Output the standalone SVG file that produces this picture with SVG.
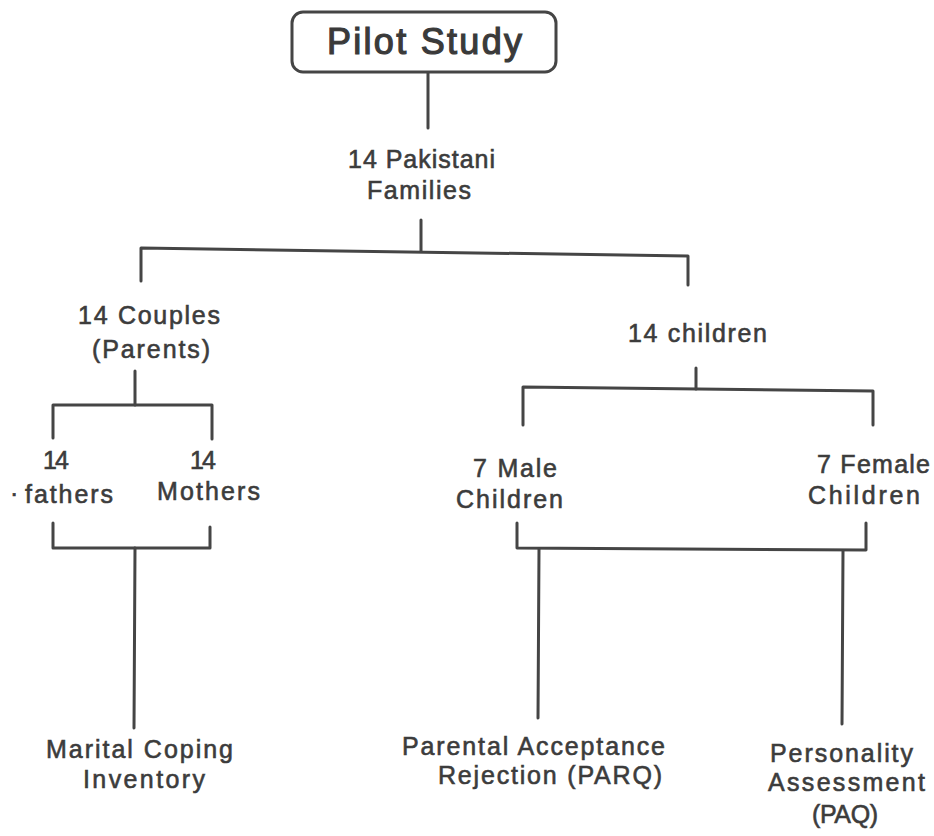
<svg xmlns="http://www.w3.org/2000/svg" width="934" height="836" viewBox="0 0 934 836">
<style>
  .t { font-family: "Liberation Sans", Arial, sans-serif; font-size: 25px; fill: #3c3c3c; stroke: #3c3c3c; stroke-width: 0.6; }
  .b { font-family: "Liberation Sans", Arial, sans-serif; font-size: 36px; fill: #3a3a3a; stroke: #3a3a3a; stroke-width: 1.2; }
  .c { fill: none; stroke: #454545; stroke-width: 3; stroke-linecap: round; stroke-linejoin: round; }
</style>
<rect width="934" height="836" fill="#ffffff"/>
<g id="connectors" class="c">
  <line x1="428" y1="73" x2="428" y2="128"/>
  <polyline points="141,281 141,248 688,256 688,285"/>
  <line x1="421" y1="220" x2="421" y2="251"/>
  <line x1="135" y1="371" x2="135" y2="405"/>
  <polyline points="53,438 53,405 212,405 212,439"/>
  <polyline points="53,523 53,548 210,548 210,527"/>
  <line x1="135" y1="548" x2="134" y2="728"/>
  <line x1="696" y1="368" x2="696" y2="389"/>
  <polyline points="523,425 523,387 873,391 873,425"/>
  <polyline points="517,523 517,548 866,550 866,523"/>
  <line x1="539" y1="549" x2="538" y2="718"/>
  <line x1="843" y1="551" x2="842" y2="724"/>
</g>
<g id="pilot">
  <rect x="292" y="12" width="264" height="60" rx="11" fill="#fff" stroke="#454545" stroke-width="3"/>
  <text class="b" x="327" y="54" textLength="195" lengthAdjust="spacing">Pilot Study</text>
</g>
<g id="families">
  <text class="t" x="348" y="168" textLength="147" lengthAdjust="spacing">14 Pakistani</text>
  <text class="t" x="367" y="199" textLength="104" lengthAdjust="spacing">Families</text>
</g>
<g id="couples">
  <text class="t" x="78" y="324" textLength="142" lengthAdjust="spacing">14 Couples</text>
  <text class="t" x="92" y="358" textLength="118" lengthAdjust="spacing">(Parents)</text>
</g>
<g id="fathers">
  <text class="t" x="43" y="469" textLength="26" lengthAdjust="spacing">14</text>
  <text class="t" x="10" y="502">·</text>
  <text class="t" x="25" y="503" textLength="88" lengthAdjust="spacing">fathers</text>
</g>
<g id="mothers">
  <text class="t" x="190" y="469" textLength="26" lengthAdjust="spacing">14</text>
  <text class="t" x="157" y="500" textLength="103" lengthAdjust="spacing">Mothers</text>
</g>
<g id="children">
  <text class="t" x="628" y="342" textLength="139" lengthAdjust="spacing">14 children</text>
</g>
<g id="male">
  <text class="t" x="473" y="477" textLength="84" lengthAdjust="spacing">7  Male</text>
  <text class="t" x="456" y="508" textLength="107" lengthAdjust="spacing">Children</text>
</g>
<g id="female">
  <text class="t" x="817" y="473" textLength="113" lengthAdjust="spacing">7 Female</text>
  <text class="t" x="808" y="504" textLength="112" lengthAdjust="spacing">Children</text>
</g>
<g id="marital">
  <text class="t" x="46" y="758" textLength="187" lengthAdjust="spacing">Marital Coping</text>
  <text class="t" x="83" y="788" textLength="122" lengthAdjust="spacing">Inventory</text>
</g>
<g id="parq">
  <text class="t" x="402" y="755" textLength="263" lengthAdjust="spacing">Parental Acceptance</text>
  <text class="t" x="438" y="784" textLength="224" lengthAdjust="spacing">Rejection (PARQ)</text>
</g>
<g id="paq">
  <text class="t" x="770" y="762" textLength="143" lengthAdjust="spacing">Personality</text>
  <text class="t" x="768" y="791" textLength="157" lengthAdjust="spacing">Assessment</text>
  <text class="t" x="812" y="823" textLength="66" lengthAdjust="spacing">(PAQ)</text>
</g>
</svg>
